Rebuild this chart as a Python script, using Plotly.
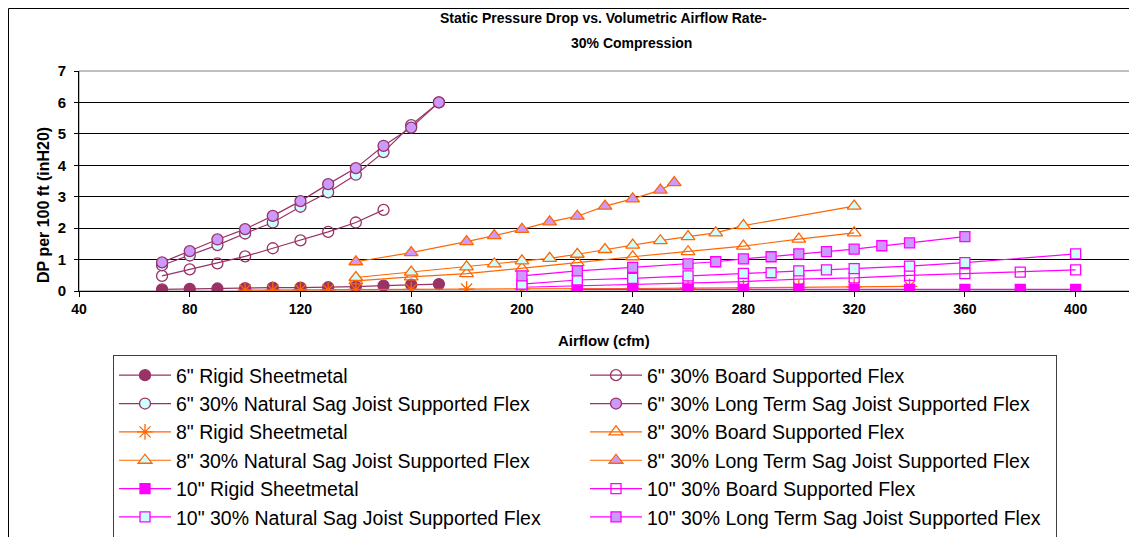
import plotly.graph_objects as go

# ---------------- data ----------------
x6_rigid = [70, 80, 90, 100, 110, 120, 130, 140, 150, 160, 170]
y6_rigid = [0.05, 0.07, 0.08, 0.09, 0.11, 0.11, 0.12, 0.14, 0.17, 0.20, 0.22]

x6_board = [70, 80, 90, 100, 110, 120, 130, 140, 150]
y6_board = [0.48, 0.69, 0.88, 1.10, 1.36, 1.61, 1.88, 2.18, 2.58]

x6_nat = [70, 80, 90, 100, 110, 120, 130, 140, 150, 160, 170]
y6_nat = [0.82, 1.13, 1.46, 1.83, 2.18, 2.68, 3.14, 3.70, 4.42, 5.28, 6.00]

x6_long = [70, 80, 90, 100, 110, 120, 130, 140, 150, 160, 170]
y6_long = [0.91, 1.27, 1.64, 1.97, 2.39, 2.86, 3.40, 3.91, 4.62, 5.20, 6.00]

x8_rigid = [100, 110, 120, 130, 140, 160, 180, 200, 220, 240, 260, 280, 300, 320, 340]
y8_rigid = [0.03, 0.03, 0.04, 0.04, 0.05, 0.05, 0.06, 0.06, 0.07, 0.08, 0.09, 0.10, 0.11, 0.13, 0.15]

x8_board = [140, 160, 180, 200, 220, 240, 260, 280, 300, 320]
y8_board = [0.32, 0.45, 0.55, 0.72, 0.90, 1.09, 1.25, 1.43, 1.65, 1.85]

x8_nat = [140, 160, 180, 190, 200, 210, 220, 230, 240, 250, 260, 270, 280, 320]
y8_nat = [0.43, 0.60, 0.77, 0.86, 0.96, 1.04, 1.17, 1.32, 1.46, 1.60, 1.73, 1.85, 2.08, 2.70]

x8_long = [140, 160, 180, 190, 200, 210, 220, 230, 240, 250, 255]
y8_long = [0.93, 1.22, 1.57, 1.76, 1.96, 2.20, 2.38, 2.70, 2.93, 3.21, 3.45]

x10_rigid = [220, 240, 260, 280, 300, 320, 340, 360, 380, 400]
y10_rigid = [0.05, 0.05, 0.05, 0.05, 0.05, 0.05, 0.05, 0.05, 0.05, 0.05]

x10_board = [200, 220, 240, 260, 280, 300, 320, 340, 360, 380, 400]
y10_board = [0.12, 0.16, 0.20, 0.25, 0.30, 0.38, 0.42, 0.50, 0.55, 0.60, 0.67]

x10_nat = [200, 220, 240, 260, 280, 290, 300, 310, 320, 340, 360, 400]
y10_nat = [0.22, 0.35, 0.40, 0.48, 0.56, 0.58, 0.64, 0.67, 0.71, 0.79, 0.90, 1.18]

x10_long = [200, 220, 240, 260, 270, 280, 290, 300, 310, 320, 330, 340, 360]
y10_long = [0.48, 0.64, 0.75, 0.86, 0.93, 1.02, 1.09, 1.18, 1.25, 1.33, 1.44, 1.53, 1.73]

x_ticks = [40, 80, 120, 160, 200, 240, 280, 320, 360, 400]
y_ticks = [0, 1, 2, 3, 4, 5, 6, 7]

# ---------------- styles ----------------
C6 = "#993366"
C8 = "#FF6600"
C10 = "#FF00FF"
CYAN = "#CCFFFF"
LAV = "#CC99FF"

series = [
    ('6" Rigid Sheetmetal', x6_rigid, y6_rigid, C6, "circle", C6, 11),
    ('6" 30% Board Supported Flex', x6_board, y6_board, C6, "circle-open", None, 11),
    ('6" 30% Natural Sag Joist Supported Flex', x6_nat, y6_nat, C6, "circle", CYAN, 11),
    ('6" 30% Long Term Sag Joist Supported Flex', x6_long, y6_long, C6, "circle", LAV, 11),
    ('8" Rigid Sheetmetal', x8_rigid, y8_rigid, C8, "asterisk-open", None, 13),
    ('8" 30% Board Supported Flex', x8_board, y8_board, C8, "triangle-up-open", None, 12),
    ('8" 30% Natural Sag Joist Supported Flex', x8_nat, y8_nat, C8, "triangle-up", CYAN, 12),
    ('8" 30% Long Term Sag Joist Supported Flex', x8_long, y8_long, C8, "triangle-up", LAV, 12),
    ('10" Rigid Sheetmetal', x10_rigid, y10_rigid, C10, "square", C10, 10),
    ('10" 30% Board Supported Flex', x10_board, y10_board, C10, "square-open", None, 10),
    ('10" 30% Natural Sag Joist Supported Flex', x10_nat, y10_nat, C10, "square", CYAN, 10),
    ('10" 30% Long Term Sag Joist Supported Flex', x10_long, y10_long, C10, "square", LAV, 10),
]

FONT = "Arial, Liberation Sans, sans-serif"

fig = go.Figure()
for name, xs, ys, col, sym, fill, size in series:
    marker = dict(symbol=sym, size=size, line=dict(color=col, width=1.3))
    marker["color"] = fill if fill is not None else col
    fig.add_trace(go.Scatter(
        x=xs, y=ys, name=name, mode="lines+markers",
        line=dict(color=col, width=1.2), marker=marker,
    ))

# the page has an 8px body margin, so the figure is shrunk to fit the window
OFF = 8
W, H = 1137 - OFF, 537 - OFF
L, R, T, B = 79 - OFF, 6, 71 - OFF, 246
PW = W - L - R
PH = H - T - B


# helpers take positions measured in the window (page) pixels
def px(xp):
    return (xp - 79) / PW


def py(yp):
    return (291 - yp) / PH


fig.update_layout(
    width=W, height=H, autosize=False,
    margin=dict(l=L, r=R, t=T, b=B, pad=0, autoexpand=False),
    paper_bgcolor="white", plot_bgcolor="white",
    font=dict(family=FONT, color="black"),
    showlegend=True,
    legend=dict(
        orientation="h", xref="container", yref="container",
        x=(113 - OFF) / W, xanchor="left", y=1 - (355 - OFF) / H, yanchor="top",
        bordercolor="#404040", borderwidth=1, bgcolor="white",
        font=dict(family=FONT, size=19.5, color="black"),
        entrywidth=404, entrywidthmode="pixels", itemwidth=52,
        traceorder="normal",
    ),
    xaxis=dict(
        range=[40, 420], tickvals=x_ticks, showgrid=False, zeroline=False,
        showline=True, linecolor="black", linewidth=1,
        ticks="outside", ticklen=5, tickcolor="black",
        tickfont=dict(family=FONT, size=14, weight="bold"),
    ),
    yaxis=dict(
        range=[0, 7], tickvals=y_ticks, showgrid=True, gridcolor="black", gridwidth=1,
        zeroline=False, showline=True, linecolor="black", linewidth=1,
        ticks="outside", ticklen=4, tickcolor="black", ticklabelstandoff=5,
        tickfont=dict(family=FONT, size=15, weight="bold"),
    ),
    shapes=[
        dict(type="rect", xref="paper", yref="paper", x0=0, y0=0, x1=1, y1=1,
             line=dict(color="#808080", width=1), layer="below"),
        dict(type="line", xref="paper", yref="paper", x0=px(8.5), y0=py(545), x1=px(8.5), y1=py(8.5),
             line=dict(color="black", width=1), layer="below"),
        dict(type="line", xref="paper", yref="paper", x0=px(8.5), y0=py(8.5), x1=px(1150), y1=py(8.5),
             line=dict(color="black", width=1), layer="below"),
    ],
    annotations=[
        dict(text="Static Pressure Drop vs. Volumetric Airflow Rate-", xref="paper", yref="paper",
             x=px(603), y=py(18), showarrow=False, xanchor="center", yanchor="middle",
             font=dict(family=FONT, size=14, weight="bold")),
        dict(text="30% Compression", xref="paper", yref="paper",
             x=px(631), y=py(43), showarrow=False, xanchor="center", yanchor="middle",
             font=dict(family=FONT, size=14, weight="bold")),
        dict(text="Airflow (cfm)", xref="paper", yref="paper",
             x=px(604), y=py(340), showarrow=False, xanchor="center", yanchor="middle",
             font=dict(family=FONT, size=15, weight="bold")),
        dict(text="DP per 100 ft (inH20)", xref="paper", yref="paper", textangle=-90,
             x=px(43), y=py(205), showarrow=False, xanchor="center", yanchor="middle",
             font=dict(family=FONT, size=16, weight="bold")),
    ],
)

fig.write_html("out.html")
